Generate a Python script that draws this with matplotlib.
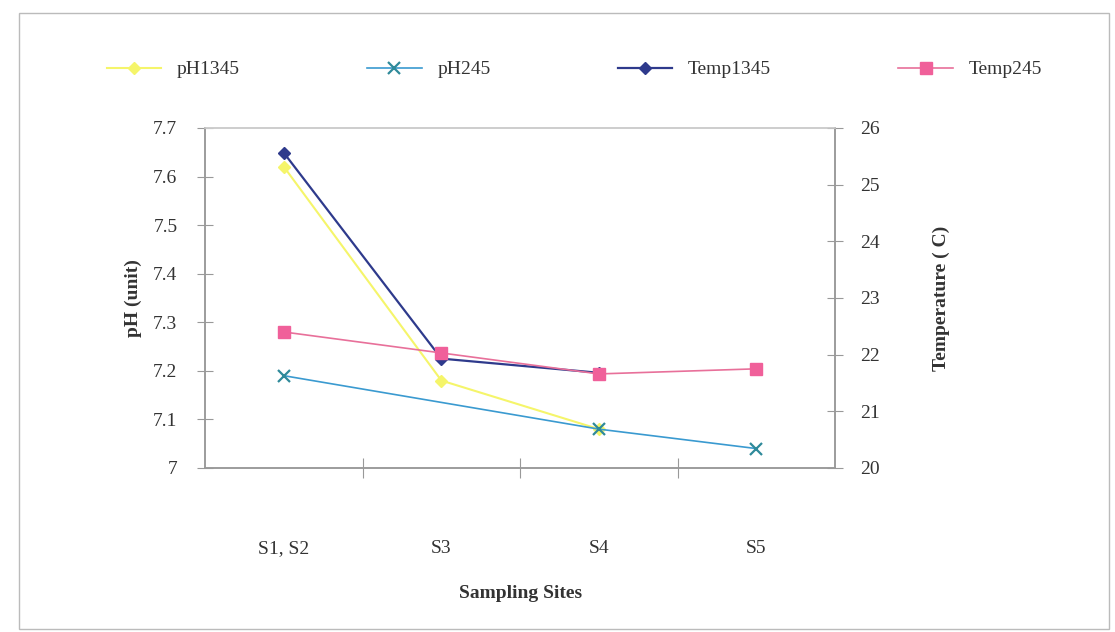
import matplotlib
matplotlib.use('Agg')
import matplotlib.pyplot as plt
from matplotlib.patches import Rectangle
import numpy as np

plt.rcParams['font.family'] = ['Liberation Serif', 'DejaVu Serif']

sites = ['S1, S2', 'S3', 'S4', 'S5']
ph1345 = [7.62, 7.18, 7.08, np.nan]
ph245 = [7.19, np.nan, 7.08, 7.04]
temp1345 = [25.56, 21.93, 21.68, np.nan]
temp245 = [22.40, 22.03, 21.66, 21.75]

xpos = np.arange(len(sites)) + 0.5

def valid(vals):
	v = np.array(vals, dtype=float)
	m = ~np.isnan(v)
	return xpos[m], v[m]

fig = plt.figure(figsize=(11.15, 6.32), dpi=100)
fig.patches.append(Rectangle((0.017, 0.005), 0.978, 0.975, transform=fig.transFigure,
	fill=False, edgecolor='#bbbbbb', linewidth=1))
ax = fig.add_axes([0.184, 0.2595, 0.565, 0.538])
ax2 = ax.twinx()

x, y = valid(ph1345)
l1, = ax.plot(x, y, color='#f5f56a', marker='D', markersize=6, linewidth=1.5, label='pH1345')
x, y = valid(ph245)
l2, = ax.plot(x, y, color='#3a9ad0', marker='x', markersize=8, markeredgewidth=1.6,
	markeredgecolor='#2f8a9a', linewidth=1.2, label='pH245')
x, y = valid(temp1345)
l3, = ax2.plot(x, y, color='#2e3a8c', marker='D', markersize=6, linewidth=1.6, label='Temp1345')
x, y = valid(temp245)
l4, = ax2.plot(x, y, color='#e8709a', marker='s', markersize=8, markerfacecolor='#f0609a',
	markeredgecolor='#f0609a', linewidth=1.2, label='Temp245')

ax.set_xlim(0, 4)
ax.set_ylim(7.0, 7.7)
ax.set_yticks(np.arange(7.0, 7.71, 0.1))
ax.set_yticklabels(['7', '7.1', '7.2', '7.3', '7.4', '7.5', '7.6', '7.7'])
ax2.set_ylim(20, 26)
ax2.set_yticks(range(20, 27))

ax.set_xticks([1, 2, 3])
ax.set_xticklabels([])
ax.set_xticks(xpos, minor=True)
ax.set_xticklabels(sites, minor=True)
ax.tick_params(axis='x', which='major', direction='inout', length=14, color='#999999')
ax.tick_params(axis='x', which='minor', length=0, pad=52, labelsize=14, labelcolor='#333333')
ax.tick_params(axis='y', direction='inout', length=12, color='#999999', labelsize=14,
	labelcolor='#333333', pad=14)
ax2.tick_params(axis='y', direction='inout', length=12, color='#999999', labelsize=14,
	labelcolor='#333333', pad=12)

for a in (ax, ax2):
	for s in a.spines.values():
		s.set_color('#999999')
		s.set_linewidth(1.1)
	a.spines['top'].set_color('#cccccc')

ax.set_ylabel('pH (unit)', fontsize=14, fontweight='bold', color='#333333', labelpad=8)
ax2.set_ylabel('Temperature ( C)', fontsize=14, fontweight='bold', color='#333333', labelpad=38)
ax.set_xlabel('Sampling Sites', fontsize=14, fontweight='bold', color='#333333', labelpad=20)

fig.legend(handles=[l1, l2, l3, l4], loc='center', ncol=4, bbox_to_anchor=(0.08, 0.84, 0.87, 0.1),
	mode='expand', frameon=False, fontsize=14, handlelength=2.8,
	labelcolor='#333333')

fig.savefig('out.png', dpi=100)
